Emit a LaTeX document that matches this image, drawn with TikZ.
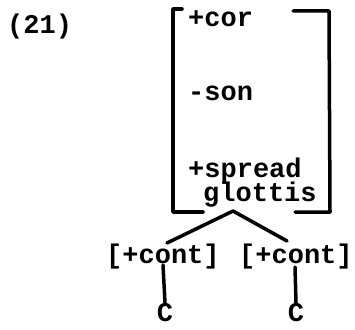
\documentclass[tikz,border=0pt]{standalone}
\usepackage{fontspec}
\setmonofont{Liberation Mono}
\begin{document}
\begin{tikzpicture}[x=1pt,y=1pt,
  lbl/.style={font=\ttfamily\bfseries\fontsize{27}{32}\selectfont, inner sep=0pt},
  brk/.style={line width=3.5pt, line cap=round, line join=round},
  br/.style={line width=3.5pt, line cap=round}]
\useasboundingbox (0,0) rectangle (355,-329);
\node[lbl, anchor=base west] (num) at (7,-34) {(21)};
\node[lbl, anchor=base west] (cor) at (188,-27) {+cor};
\node[lbl, anchor=base west] (son) at (188,-100) {-son};
\node[lbl, anchor=base west] (spr) at (188,-177) {+spread};
\node[lbl, anchor=base west] (glo) at (203,-201) {glottis};
\draw[brk] (182,-9) -- (173,-9) -- (173,-212) -- (203,-212);
\draw[brk] (293,-11) -- (329,-11) -- (330,-212) -- (295,-212);
\node[lbl, anchor=base west] (contL) at (106,-263) {[+cont]};
\node[lbl, anchor=base west] (contR) at (239,-263) {[+cont]};
\node[lbl, anchor=base] (cL) at (165,-321) {C};
\node[lbl, anchor=base] (cR) at (296,-321) {C};
\coordinate (apex) at (233,-211);
\coordinate (tL) at (167,-243);
\coordinate (tR) at (287,-241);
\coordinate (bL) at (163,-265);
\coordinate (bR) at (295,-267);
\draw[br] (apex) -- (tL);
\draw[br] (apex) -- (tR);
\draw[br] (bL) -- (cL.north);
\draw[br] (bR) -- (cR.north);
\end{tikzpicture}
\end{document}
